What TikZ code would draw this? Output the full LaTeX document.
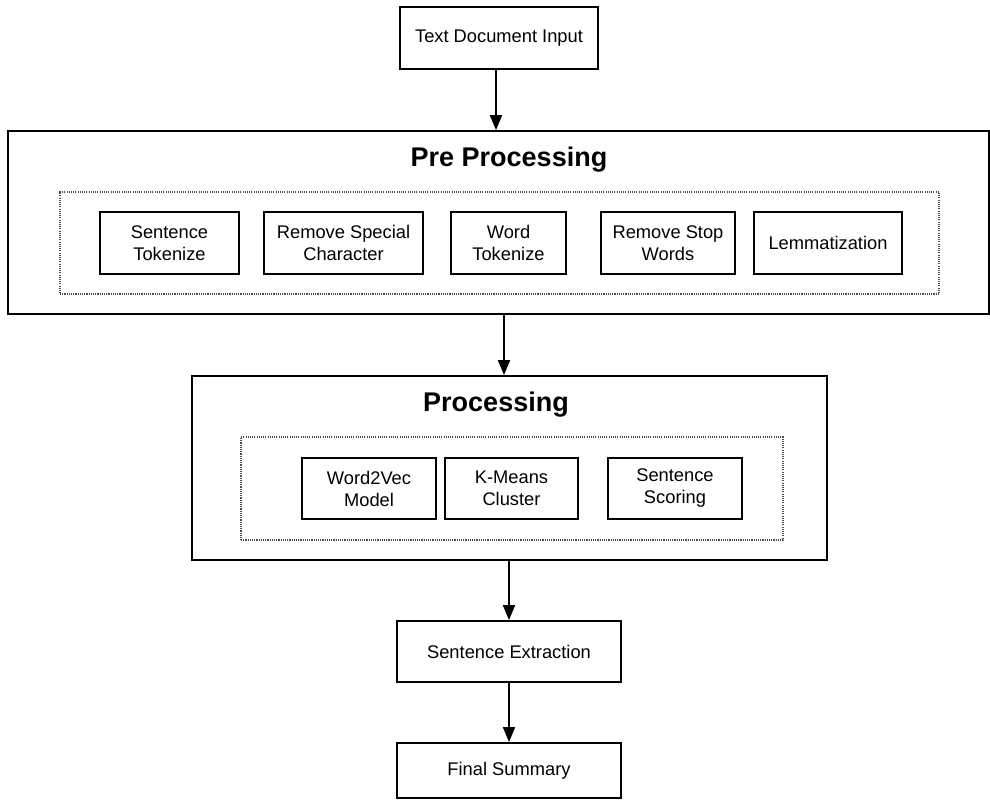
\documentclass[tikz,border=0pt]{standalone}
\usepackage{fontspec}
\setmainfont{Liberation Sans}
\usetikzlibrary{arrows.meta}
\begin{document}
\begin{tikzpicture}[x=1pt,y=-1pt,
  box/.style={draw=black, line width=1.9pt, fill=white, inner sep=0pt, align=center,
    font=\fontsize{18.3}{22}\selectfont},
  bigbox/.style={draw=black, line width=1.9pt, inner sep=0pt},
  dotbox/.style={draw=black!70, line width=1.2pt, dash pattern=on 1.1pt off 1.1pt, inner sep=0pt},
  title/.style={font=\fontsize{27}{30}\selectfont\bfseries, inner sep=0pt},
  arr/.style={line width=1.9pt, -{Triangle[length=15pt,width=12pt]}}
]
\useasboundingbox (0,0) rectangle (990,800);

\node[box, minimum width=198pt, minimum height=62pt] (input) at (499,38) {Text Document Input};

\node[bigbox, minimum width=981pt, minimum height=183pt] (pre) at (498.5,222.5) {};
\node[title] (pretitle) at (509,160) {Pre Processing};
\node[dotbox, minimum width=879pt, minimum height=102pt] (predot) at (499.5,243) {};
\node[box, minimum width=139pt, minimum height=62pt] (st) at (169.5,243) {Sentence\\Tokenize};
\node[box, minimum width=159pt, minimum height=62pt] (rsc) at (343.5,243) {Remove Special\\Character};
\node[box, minimum width=115pt, minimum height=62pt] (wt) at (508.5,243) {Word\\Tokenize};
\node[box, minimum width=134pt, minimum height=62pt] (rsw) at (668,243) {Remove Stop\\Words};
\node[box, minimum width=148pt, minimum height=62pt] (lem) at (828,243) {Lemmatization};

\node[bigbox, minimum width=635pt, minimum height=184pt] (proc) at (509.5,468) {};
\node[title] (proctitle) at (496,405) {Processing};
\node[dotbox, minimum width=542pt, minimum height=103pt] (procdot) at (512,488.5) {};
\node[box, minimum width=134pt, minimum height=61pt] (w2v) at (369,488.5) {Word2Vec\\Model};
\node[box, minimum width=133pt, minimum height=61pt] (km) at (511.5,488.5) {K-Means\\Cluster};
\node[box, minimum width=134pt, minimum height=61pt] (ss) at (675,488.5) {Sentence\\Scoring};

\node[box, minimum width=224pt, minimum height=61pt] (se) at (509,651.5) {Sentence Extraction};
\node[box, minimum width=224pt, minimum height=55pt] (fs) at (509,770.5) {Final Summary};

\draw[arr] ([xshift=-3pt]input.south) -- ([xshift=-3pt]input.south |- pre.north);
\draw[arr] ([xshift=5.5pt]pre.south) -- ([xshift=5.5pt]pre.south |- proc.north);
\draw[arr] (proc.south -| se.north) -- (se.north);
\draw[arr] (se.south) -- (fs.north);
\end{tikzpicture}
\end{document}
